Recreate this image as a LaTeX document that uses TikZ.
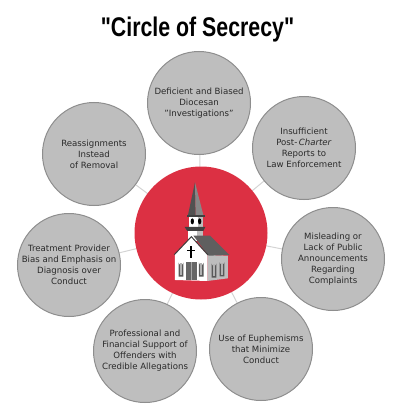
\documentclass[tikz,border=0pt]{standalone}
\usepackage{fontspec}
\setmainfont{DejaVu Sans}
\newfontfamily\titlefont{Liberation Sans}
\usetikzlibrary{backgrounds}
\definecolor{bub}{HTML}{BEBEBE}
\definecolor{bubline}{HTML}{8E8E8E}
\definecolor{link}{HTML}{D4D4D4}
\definecolor{hub}{HTML}{DC3043}
\definecolor{txt}{HTML}{2A2A2A}
\definecolor{roofc}{HTML}{5F5F5F}
\definecolor{sidec}{HTML}{BDBDBD}
\tikzset{
  bubble/.style={circle,draw=bubline,line width=1pt,fill=bub,minimum size=103pt,inner sep=0pt,
    align=center,text=txt,font=\fontsize{8.6}{11}\selectfont},
  hubnode/.style={circle,fill=hub,minimum size=133pt,inner sep=0pt},
  linkline/.style={draw=link,line width=1pt},
  titletext/.style={font=\titlefont\bfseries\fontsize{27}{30}\selectfont,text=black,xscale=0.79,inner sep=0pt}
}
\begin{document}
\begin{tikzpicture}[x=1pt,y=-1pt]
\useasboundingbox (0,0) rectangle (403,420);
\node[titletext] (title) at (197.5,30) {"Circle of Secrecy"};
\node[hubnode] (hub) at (201,233) {};
\node[bubble] (a) at (199,103) {Deficient and Biased\\Diocesan\\"Investigations"};
\node[bubble] (b) at (304,148) {Insufficient\\Post-\,\textit{Charter}\\Reports to\\Law Enforcement};
\node[bubble] (c) at (333,259) {Misleading or\\Lack of Public\\Announcements\\Regarding\\Complaints};
\node[bubble] (d) at (261,349) {Use of Euphemisms\\that Minimize\\Conduct};
\node[bubble] (e) at (145,351) {Professional and\\Financial Support of\\Offenders with\\Credible Allegations};
\node[bubble] (f) at (69,265) {Treatment Provider\\Bias and Emphasis on\\Diagnosis over\\Conduct};
\node[bubble] (g) at (94,154) {Reassignments\\Instead\\of Removal};
\begin{scope}[on background layer]
\foreach \n in {a,b,c,d,e,f,g} \draw[linkline] (hub.center) -- (\n.center);
\end{scope}
% church, in units of a 3x enlargement
\begin{scope}[shift={(130,165)},x=0.3333pt,y=-0.3333pt]
% spire
\fill[roofc!85!black] (195,52) -- (174,150) -- (197,150) -- cycle;
\fill[roofc!75!white] (195,52) -- (197,150) -- (220,150) -- cycle;
\fill[black!75] (170,150) rectangle (224,156);
% belfry
\fill[white] (176,156) rectangle (203,186);
\fill[sidec] (203,156) rectangle (220,186);
\fill[black] (187,169) ellipse (5 and 9);
\fill[black] (209,169) ellipse (5 and 9);
\fill[black!75] (164,186) -- (226,186) -- (220,198) -- (172,198) -- cycle;
% tower base
\fill[white] (173,198) rectangle (202,228);
\fill[sidec] (202,198) rectangle (220,228);
% body side and roof
\fill[sidec] (232,270) -- (294,272) -- (294,340) -- (232,348) -- cycle;
\fill[roofc] (190,212) -- (240,212) -- (298,270) -- (236,272) -- cycle;
% front
\fill[white] (135,345) -- (135,268) -- (184,217) -- (232,268) -- (232,348) -- cycle;
\draw[black!75,line width=1pt] (133,269) -- (184,215) -- (234,270);
% cross
\fill[black] (180.5,242) rectangle (185,280);
\fill[black] (171,254) rectangle (194,258.5);
% door
\fill[black!60] (168,291) rectangle (200,346);
\draw[black!35,line width=0.4pt] (184,291) -- (184,346);
% windows
\foreach \wx/\wt in {153/285,214/285,252/288,276/284}{
  \fill[black!65] (\wx-7,\wt+8) arc[start angle=180,end angle=0,radius=7] -- (\wx+7,\wt+50) -- (\wx-7,\wt+50) -- cycle;
  \fill[black!30] (\wx-3,\wt+10) rectangle (\wx+3,\wt+46);
}
\end{scope}
\end{tikzpicture}
\end{document}
